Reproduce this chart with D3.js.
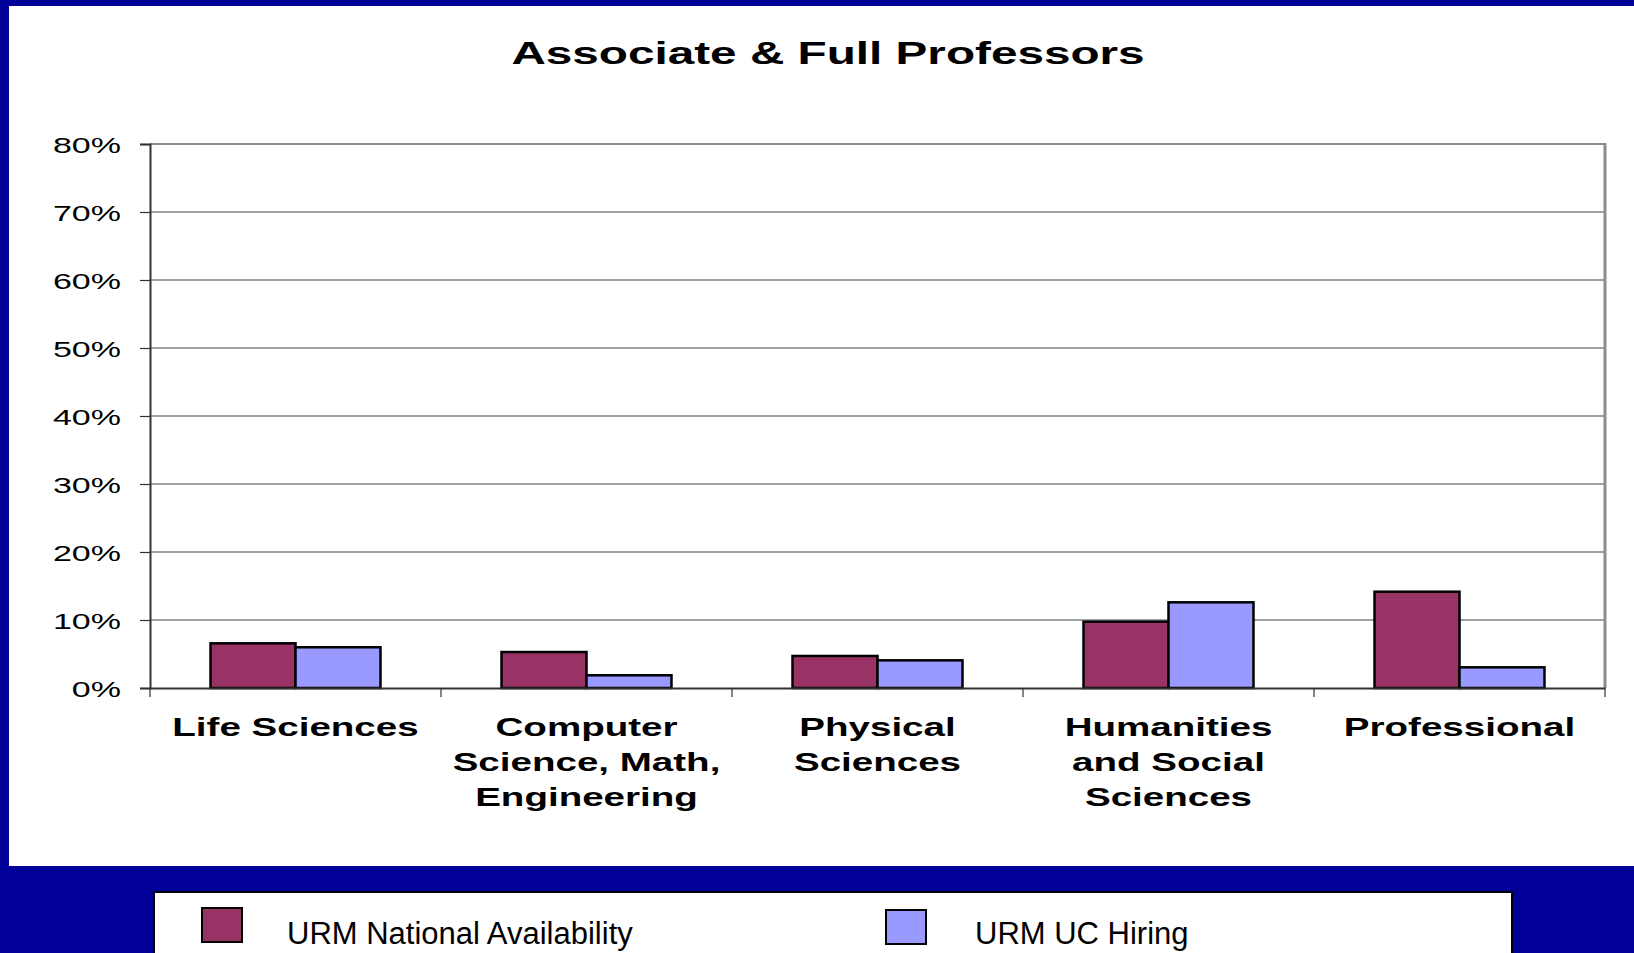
<!DOCTYPE html>
<html><head><meta charset="utf-8">
<script src="https://cdn.jsdelivr.net/npm/d3@7"></script>
<style>html,body{margin:0;padding:0;background:#000099;overflow:hidden}</style>
</head><body>
<svg id="chart" width="1634" height="953"></svg>
<script>
const categories = [["Life Sciences"], ["Computer", "Science, Math,", "Engineering"], ["Physical", "Sciences"], ["Humanities", "and Social", "Sciences"], ["Professional"]];
const categoryKeys = ["Life Sciences", "Computer Science, Math, Engineering", "Physical Sciences", "Humanities and Social Sciences", "Professional"];
const seriesNames = ["URM National Availability", "URM UC Hiring"];
const nationalAvailability = [6.57, 5.29, 4.71, 9.75, 14.16];
const ucHiring = [5.99, 1.87, 4.07, 12.6, 3.04];
const yTicks = [0, 10, 20, 30, 40, 50, 60, 70, 80];
const seriesColors = ["#993366", "#9999FF"];
const SX = 1.5;

const svg = d3.select("#chart");
svg.append("rect").attr("x", 0).attr("y", 0).attr("width", 1634).attr("height", 953).attr("fill", "#000099");
svg.append("rect").attr("x", 9).attr("y", 6).attr("width", 1625).attr("height", 860).attr("fill", "#ffffff");

const pLeft = 150, pRight = 1605, pTop = 144, pBottom = 688;
const y = d3.scaleLinear().domain([0, 80]).range([pBottom, pTop]);
const x0 = d3.scaleBand().domain(categoryKeys).range([pLeft, pRight]).padding(0);
const x1 = d3.scaleBand().domain(seriesNames).range([0, x0.bandwidth()]).paddingInner(0).paddingOuter(0.712);

// title
svg.append("text").attr("transform", `translate(828,64) scale(${SX},1)`)
  .attr("text-anchor", "middle").attr("font-family", "Liberation Sans, Arial, sans-serif")
  .attr("font-weight", "bold").attr("font-size", 31.8).attr("fill", "#000")
  .text("Associate & Full Professors");

// gridlines
svg.append("g").selectAll("line").data(yTicks.filter(d => d > 0 && d < 80)).join("line")
  .attr("x1", pLeft).attr("x2", pRight).attr("y1", d => y(d)).attr("y2", d => y(d))
  .attr("stroke", "#444").attr("stroke-width", 1.2);

// plot border top/right
svg.append("line").attr("x1", pLeft).attr("x2", pRight).attr("y1", y(80)).attr("y2", y(80)).attr("stroke", "#8c8c8c").attr("stroke-width", 2);
svg.append("line").attr("x1", pRight).attr("x2", pRight).attr("y1", y(80) - 1).attr("y2", pBottom).attr("stroke", "#8c8c8c").attr("stroke-width", 3);

// y axis
const yAxis = d3.axisLeft(y).tickValues(yTicks).tickSize(10).tickFormat(d => d + "%");
const gy = svg.append("g").attr("transform", `translate(${pLeft},0)`).call(yAxis);
gy.select(".domain").attr("stroke", "#333").attr("stroke-width", 2);
gy.selectAll(".tick line").attr("stroke", "#333").attr("stroke-width", 1.2);
gy.selectAll(".tick text").each(function(d) {
  const t = d3.select(this);
  t.attr("x", null).attr("dy", null)
   .attr("transform", `translate(-29,8) scale(${SX},1)`)
   .attr("text-anchor", "end").attr("font-family", "Liberation Sans, Arial, sans-serif")
   .attr("font-size", 22.7).attr("fill", "#000");
});

// bars
const data = categoryKeys.map((k, i) => ({ key: k, values: [nationalAvailability[i], ucHiring[i]] }));
const groups = svg.append("g").selectAll("g").data(data).join("g")
  .attr("transform", d => `translate(${x0(d.key)},0)`);
groups.selectAll("rect").data(d => d.values.map((v, j) => ({ s: seriesNames[j], v, j }))).join("rect")
  .attr("x", d => x1(d.s)).attr("width", x1.bandwidth())
  .attr("y", d => y(d.v)).attr("height", d => y(0) - y(d.v))
  .attr("fill", d => seriesColors[d.j]).attr("stroke", "#000").attr("stroke-width", 2.5);

// x axis
const xAxis = d3.axisBottom(x0).tickSize(0).tickFormat("");
const gx = svg.append("g").attr("transform", `translate(0,${pBottom})`).call(xAxis);
gx.select(".domain").attr("stroke", "#333").attr("stroke-width", 2);
const boundaries = d3.range(categoryKeys.length + 1).map(i => pLeft + i * x0.step());
svg.append("g").selectAll("line").data(boundaries).join("line")
  .attr("x1", d => d).attr("x2", d => d).attr("y1", pBottom).attr("y2", pBottom + 9)
  .attr("stroke", "#333").attr("stroke-width", 1.2);

// category labels
const labelG = svg.append("g").selectAll("g").data(categories).join("g");
labelG.each(function(lines, i) {
  const cx = x0(categoryKeys[i]) + x0.bandwidth() / 2;
  d3.select(this).selectAll("text").data(lines).join("text")
    .attr("transform", (l, k) => `translate(${cx},${736 + k * 35}) scale(${SX},1)`)
    .attr("text-anchor", "middle").attr("font-family", "Liberation Sans, Arial, sans-serif")
    .attr("font-weight", "bold").attr("font-size", 25.7).attr("fill", "#000")
    .text(l => l);
});

// legend
svg.append("rect").attr("x", 154).attr("y", 892).attr("width", 1358).attr("height", 80)
  .attr("fill", "#fff").attr("stroke", "#000").attr("stroke-width", 2);
const legendItems = [
  { name: seriesNames[0], color: seriesColors[0], sx: 202, sy: 908, tx: 287 },
  { name: seriesNames[1], color: seriesColors[1], sx: 886, sy: 910, tx: 975 }
];
const lg = svg.append("g").selectAll("g").data(legendItems).join("g");
lg.append("rect").attr("x", d => d.sx).attr("y", d => d.sy).attr("width", 40).attr("height", 34)
  .attr("fill", d => d.color).attr("stroke", "#000").attr("stroke-width", 2);
lg.append("text").attr("x", d => d.tx).attr("y", 944)
  .attr("font-family", "Liberation Sans, Arial, sans-serif").attr("font-size", 31).attr("fill", "#000")
  .text(d => d.name);
</script>
</body></html>
